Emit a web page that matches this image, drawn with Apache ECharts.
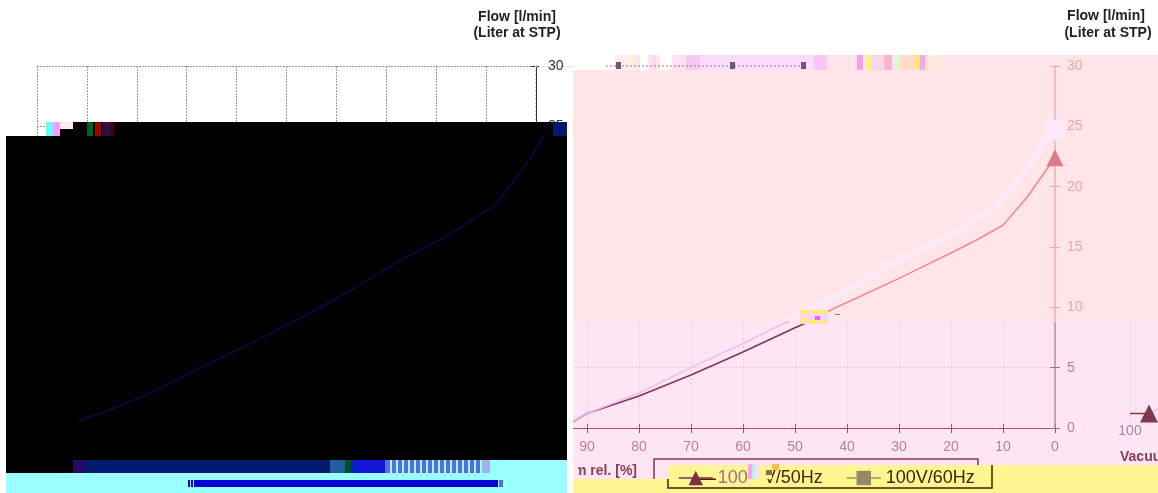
<!DOCTYPE html>
<html><head><meta charset="utf-8">
<style>html,body{margin:0;padding:0;background:#fff}#c{width:1158px;height:493px}</style>
<script src="https://cdn.jsdelivr.net/npm/echarts@6/dist/echarts.min.js"></script>
</head><body><div id="c"></div>
<script>
const vacuumTicks = [100,90,80,70,60,50,40,30,20,10,0];
const flowTicks = [0,5,10,15,20,25,30];
const vacuum50 = [92.7,90,80,70,60,50,46.8,43,30,20,15,10,5.4,1,0];
const flow50 = [0.5,1.2,2.65,4.4,6.3,8.3,8.9,9.8,12.4,14.5,15.6,16.8,19.1,21.8,22.4];
const vacuum60Low = [92.7,90,80,70,60,52,51];
const flow60Low = [0.5,1.2,2.9,5,7,8.7,8.8];
const vacuum60High = [51,50,40,30,20.2,10.6,4.2,1,0];
const flow60High = [8.8,9.1,11.4,13.9,16,18.6,22.2,24.4,24.7];
const vacuumStart = [100,96.35];
const flowStart = [1.2,1.2];
const vacuumStart60 = [96.35,91];
const flowStart60 = [1.2,2.3];
const vacuumLeft = [94.6,92.7,90,80,70,60,52,50,40,30,20.2,10.6,4.2,1];
const flowLeft = [0.5,0.9,1.2,2.9,5,7,8.7,9.1,11.4,13.9,16,18.6,22.2,24.4];
const name50 = '100V/50Hz', name60 = '100V/60Hz';

const zip=(a,b)=>a.map((v,i)=>[v,b[i]]);
const FONT='"Liberation Sans",Arial,sans-serif';
const split=(a,b)=>({type:'linear',x:0,y:66,x2:0,y2:428,global:true,colorStops:[{offset:0,color:a},{offset:.707,color:a},{offset:.707,color:b},{offset:1,color:b}]});
const gridOpt={top:66,height:362,outerBoundsMode:'none'};
const grid=[
 {...gridOpt,left:37,width:499},
 {...gridOpt,left:535,width:520},
 {...gridOpt,left:1130,width:520},
 {...gridOpt,left:51,width:499}];
const xBase={type:'value',min:0,max:100,interval:10,inverse:true};
const yBase={type:'value',min:0,max:30,interval:5,position:'right'};
const none={show:false};
const xAxis=[
 {...xBase,gridIndex:0,z:0,axisLine:{lineStyle:{color:'#333'}},axisTick:{lineStyle:{color:'#333'}},axisLabel:{color:'#333',fontSize:14,fontFamily:FONT},splitLine:{show:true,lineStyle:{color:'#999',type:[2,1],width:1}}},
 {...xBase,gridIndex:1,z:2,axisLine:none,axisTick:{inside:true,length:4,lineStyle:{color:'#a05068'}},axisLabel:none,splitLine:{show:true,lineStyle:{color:'#f8c4d4',type:[2,2],width:1}}},
 {...xBase,gridIndex:1,z:4,position:'bottom',axisLine:{lineStyle:{color:'#a05068',width:1}},axisTick:{length:5,lineStyle:{color:'#a05068'}},axisLabel:{color:'#bf8096',fontSize:14,margin:12,fontFamily:FONT,showMinLabel:true,showMaxLabel:true},splitLine:none},
 {...xBase,gridIndex:2,z:2,axisLine:none,axisTick:none,axisLabel:{color:'#a88a9c',fontSize:14,margin:-4,fontFamily:FONT},splitLine:{show:true,lineStyle:{color:'#f8c4d4',type:[2,2],width:1}}},
 {...xBase,gridIndex:3,show:false,splitLine:none}
];
const yAxis=[
 {...yBase,gridIndex:0,z:0,axisLine:{show:true,lineStyle:{color:'#333'}},axisTick:{show:true,length:5,lineStyle:{color:'#333'}},axisLabel:{color:'#333',fontSize:14,margin:12,fontFamily:FONT},splitLine:{show:true,lineStyle:{color:'#999',type:[2,1],width:1}}},
 {...yBase,gridIndex:0,z:0,axisLine:none,axisTick:{show:true,inside:true,length:5,lineStyle:{color:'#333'}},axisLabel:none,splitLine:none},
 {...yBase,gridIndex:1,z:2,axisLine:none,axisTick:none,axisLabel:none,splitLine:{show:true,lineStyle:{color:'#f8c4d4',type:[2,2],width:1}}},
 {...yBase,gridIndex:1,z:4,axisLine:{show:true,lineStyle:{color:split('#f0b0b8','#b98aa0'),width:1.5}},axisTick:{show:true,length:5,lineStyle:{color:split('#f0a8b0','#a86880')}},axisLabel:{fontSize:14,margin:12,fontFamily:FONT,color:v=>v>=10?'#f0a4a8':'#cf7890'},splitLine:none},
 {...yBase,gridIndex:1,z:4,axisLine:none,axisTick:{show:true,inside:true,length:5,lineStyle:{color:split('#f0a8b0','#a86880')}},axisLabel:none,splitLine:none},
 {...yBase,gridIndex:2,show:false,splitLine:none},
 {...yBase,gridIndex:3,show:false,splitLine:none}
];
const ends=(arr,size)=>(v,p)=>p.dataIndex===arr.length-1?size:0;
const series=[
 {type:'line',name:name50,xAxisIndex:2,yAxisIndex:3,z:5,data:zip(vacuum50,flow50),symbol:'triangle',showAllSymbol:true,symbolSize:ends(vacuum50,17),
  itemStyle:{color:'#e07a88'},lineStyle:{width:1.6,color:split('#ec8c90','#84364c')},silent:true,clip:false},
 {type:'line',name:name60,xAxisIndex:2,yAxisIndex:3,z:5,data:zip(vacuum60High,flow60High),symbol:'rect',showAllSymbol:true,symbolSize:ends(vacuum60High,21),
  itemStyle:{color:'#fdeaf8'},lineStyle:{width:7,color:'#fdeaf6'},silent:true,clip:false},
 {type:'line',name:name60,xAxisIndex:2,yAxisIndex:3,z:5,data:zip(vacuum60Low,flow60Low),symbol:'none',lineStyle:{width:1.5,color:'#efbdf0'},silent:true,clip:false},
 {type:'line',name:name50,xAxisIndex:3,yAxisIndex:5,z:5,data:zip(vacuumStart,flowStart),symbol:'triangle',showAllSymbol:true,symbolSize:ends(vacuumStart,18),itemStyle:{color:'#84364c'},lineStyle:{width:1.5,color:'#84364c'},silent:true},
 {type:'line',name:name60,xAxisIndex:3,yAxisIndex:5,z:5,data:zip(vacuumStart60,flowStart60),symbol:'none',lineStyle:{width:1.5,color:'#efbdf0'},silent:true,clip:false},
 {type:'line',name:'left',xAxisIndex:4,yAxisIndex:6,z:9,data:zip(vacuumLeft,flowLeft),symbol:'none',lineStyle:{width:1.6,color:'#000d44'},silent:true,clip:false}
];
const R=(x,y,w,h,c,z)=>({type:'rect',z,silent:true,shape:{x,y,width:w,height:h},style:{fill:c}});
const Tx=(x,y,s,o,z)=>({type:'text',x,y,z:z||12,silent:true,style:{text:s,font:(o.b?'bold ':'')+(o.s||14)+'px '+FONT,fill:o.c||'#222',align:o.a||'center',verticalAlign:'middle'}});
const SAL='#ffe4e8',LIL='#fee5f4',YEL='#fdf592',CY='#99ffff',NAVY='#001a70';
const bits=[];
[[615,22,'#fdeaf8'],[628,4,'#fff4d0'],[640,8,'#fff'],[652,4,'#fbd8fb'],[660,12,'#fff'],[675,10,'#ffe0f8'],[686,14,'#f8c8f4'],[700,115,'#fcdcfc'],[814,13,'#fbc4f4'],[857,6,'#fb9cf0'],[866,5,'#fdf07c'],[871,12,'#fcd4ee'],[884,8,'#f8b4d0'],[895,4,'#d8f8d0'],[900,15,'#fddcc8'],[915,5,'#fde878'],[920,5,'#f8a4f0'],[925,3,'#fddcc8'],[929,12,'#fdecd8']]
 .forEach(a=>bits.push(R(a[0],55,a[1],15,a[2],3.2)));
bits.push({type:'line',z:3.4,silent:true,shape:{x1:606,y1:66,x2:806,y2:66},style:{stroke:'#8a7a88',lineWidth:1,lineDash:[2,2]}});
[618,732,803].forEach(x=>bits.push(R(x-2,62,5,7,'#6a5a68',3.5)));
[[800,310,28,14,'#fbd4f8'],[801,310,7,4,'#fdf060'],[812,310,7,4,'#fdf060'],[801,318,7,4,'#fdf060'],[821,310,6,4,'#fdf060'],[815,316,5,4,'#f060f0'],[810,320,7,4,'#fdf060'],[820,320,6,3,'#fdf060'],[835,314,5,1,'#a07088']]
 .forEach(a=>bits.push(R(a[0],a[1],a[2],a[3],a[4],6)));
[[748,464,4,15,'#f8a8e8'],[752,464,3,15,'#a8f8e8'],[755,464,4,15,'#fcdcfc'],[760,465,12,14,YEL],[772,464,7,6,'#fdb860'],[766,470,6,5,'#8a7040']]
 .forEach(a=>bits.push(R(a[0],a[1],a[2],a[3],a[4],11)));
[[46,122,7,14,'#66ffff'],[53,122,7,14,'#ff99ff'],[60,122,13,7,'#ffe8f8'],[60,129,13,7,'#000'],[87,122,6,14,'#006020'],[95,122,6,14,'#a00000'],[102,122,8,14,'#301040'],[110,122,4,14,'#400020'],[553,122,14,14,NAVY]]
 .forEach(a=>bits.push(R(a[0],a[1],a[2],a[3],a[4],8.5)));
[[73,460,12,13,'#2a0a60'],[85,460,245,13,NAVY],[330,460,15,13,'#2060a0'],[345,460,6,13,'#005020'],[351,460,6,13,'#0020c0'],[357,460,28,13,'#1414d8'],[385,460,97,13,'#5a6ce0'],[482,460,8,13,'#a0b0f0'],[188,480,2,7,'#0000d0'],[191,480,2,7,'#0000d0'],[194,480,304,7,'#0000d0'],[499,480,4,7,'#5070e0']]
 .forEach(a=>bits.push(R(a[0],a[1],a[2],a[3],a[4],8.5)));
[390,396,402,408,414,420,426,432,438,444,450,456,462,468,474,480].forEach(x=>bits.push(R(x,460,2,13,CY,8.7)));
const graphic=[
 R(573,55,42,15,'#fff',3),
 R(615,55,543,15,SAL,3),
 R(573,70,585,252,SAL,3),
 R(573,322,585,160,LIL,1),
 R(668,465,490,28,YEL,1.5),
 R(573,479,95,14,YEL,1.5),
 R(567,122,6,371,'#fff',8),
 R(73,122,480,14,'#000',8),
 R(6,136,561,324,'#000',8),
 R(6,473,561,20,CY,8),
 R(73,460,494,13,CY,8),
 R(6,460,67,13,'#000',8),
 {type:'polyline',z:7,silent:true,shape:{points:[[654,479],[654,459],[978,459],[978,465]]},style:{stroke:'#84364c',lineWidth:1.5,fill:null}},
 {type:'polyline',z:7,silent:true,shape:{points:[[668,479],[668,488],[992,488],[992,465]]},style:{stroke:'#4a2000',lineWidth:1.5,fill:null}},
 R(700,478.5,16,1.5,'#4a2000',7),
 ...bits,
 R(573,464,5,15,LIL,5),
 Tx(517,17,'Flow [l/min]',{b:1}),
 Tx(517,33,'(Liter at STP)',{b:1}),
 Tx(1106,16,'Flow [l/min]',{b:1}),
 Tx(1108,33,'(Liter at STP)',{b:1}),
 Tx(637,471,'Vacuum rel. [%]',{b:1,c:'#8a3c54',a:'right'},4),
 Tx(1120,457,'Vacuum rel. [%]',{b:1,c:'#8a3c54',a:'left'},4)
];
const legend=[
 {left:673,top:464,z:10,itemWidth:34,itemHeight:18,data:[{name:name50,itemStyle:{color:'#7c3048'},lineStyle:{color:'#7c3048',width:1.5}}],selectedMode:false,
  formatter:()=>'{a|100}{g|V/50Hz}',textStyle:{fontSize:18,fontFamily:FONT,rich:{a:{fontSize:18,fontFamily:FONT,color:'#a07088'},g:{fontSize:18,fontFamily:FONT,color:'#4a2808',padding:[0,0,0,16]}}}},
 {left:841,top:464,z:10,itemWidth:34,itemHeight:18,data:[{name:name60,itemStyle:{color:'#908a68'},lineStyle:{color:'#a09060',width:1.5}}],selectedMode:false,
  textStyle:{fontSize:18,fontFamily:FONT,color:'#3e2408'}}
];
const chart=echarts.init(document.getElementById('c'),null,{renderer:'canvas'});
chart.setOption({animation:false,backgroundColor:'#fff',textStyle:{fontFamily:FONT},grid,xAxis,yAxis,series,graphic,legend});
</script></body></html>
